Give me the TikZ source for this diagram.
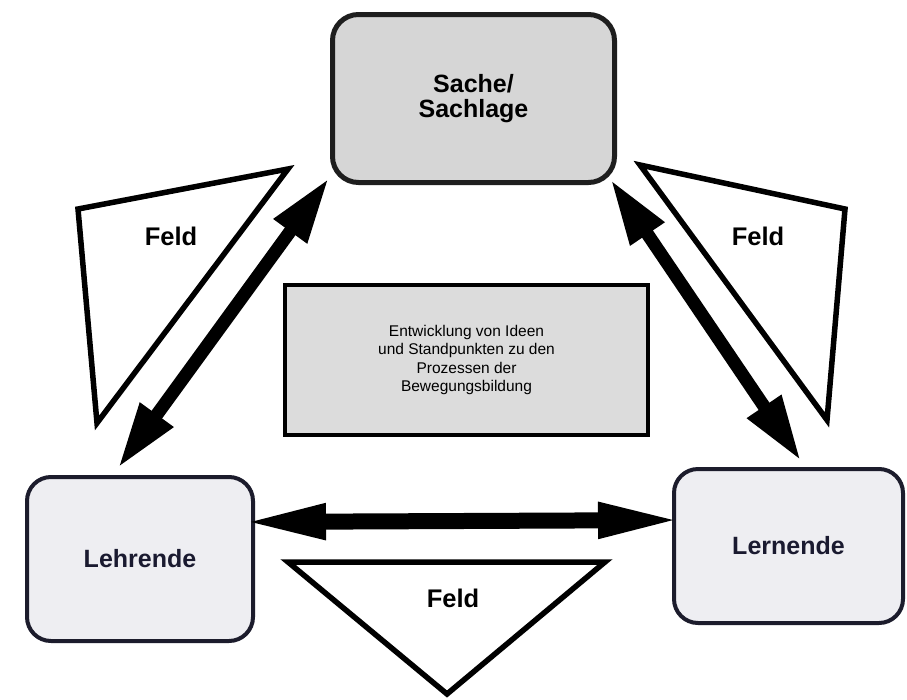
\documentclass[tikz,border=0pt]{standalone}
\usepackage{fontspec}
\setmainfont{Liberation Sans}
\usetikzlibrary{arrows.meta}
\definecolor{sachefill}{HTML}{D6D6D6}
\definecolor{midfill}{HTML}{DCDCDC}
\definecolor{lowfill}{HTML}{EEEEF2}
\definecolor{darkline}{HTML}{1E1E1E}
\definecolor{navyline}{HTML}{1C1C2C}
\definecolor{navytext}{HTML}{1A1A30}
\tikzset{
  bigtext/.style={font=\fontsize{25}{25}\selectfont\bfseries, align=center},
  sachebox/.style={draw=darkline, line width=5pt, fill=sachefill, rounded corners=26pt,
    minimum width=282pt, minimum height=168pt, inner sep=0pt, bigtext},
  personbox/.style={draw=navyline, line width=4pt, fill=lowfill, rounded corners=24pt,
    inner sep=0pt, bigtext, text=navytext},
  midbox/.style={draw=black, line width=4.5pt, fill=midfill, minimum width=363pt,
    minimum height=150pt, inner sep=0pt, align=center,
    font=\fontsize{15.5}{18.5}\selectfont},
  feldshape/.style={draw=black, line width=5.5pt, fill=white, line join=miter},
  feldtext/.style={font=\fontsize{25.5}{26}\selectfont\bfseries, inner sep=0pt},
  diagarrow/.style={draw=black, line width=13pt,
    {Triangle[length=66pt,width=38pt]}-{Triangle[length=66pt,width=38pt]}},
  horarrow/.style={draw=black, line width=16pt,
    {Triangle[length=86pt,width=32pt]}-{Triangle[length=86pt,width=32pt]}},
}
\begin{document}
\begin{tikzpicture}[x=1pt,y=-1pt]
\useasboundingbox[fill=white] (0,0) rectangle (907,699);

% Feld triangles
\draw[feldshape] (78,209) -- (288,169) -- (97,423) -- cycle;
\draw[feldshape] (640,165) -- (845,209) -- (827,420) -- cycle;
\draw[feldshape] (288,562) -- (605,562) -- (447,694) -- cycle;
\node[feldtext] (feldL) at (171,236) {Feld};
\node[feldtext] (feldR) at (758,236) {Feld};
\node[feldtext] (feldB) at (453,598) {Feld};

% boxes
\node[sachebox] (sache) at (473.5,98.5) {Sache/\\Sachlage};
\node[personbox, minimum width=226pt, minimum height=164pt] (lehr) at (140,559) {Lehrende};
\node[personbox, minimum width=229pt, minimum height=154pt] (lern) at (788.5,546) {Lernende};
\node[midbox] (mid) at (466.5,360) {Entwicklung von Ideen\\und Standpunkten zu den\\Prozessen der\\Bewegungsbildung};

% arrows
\draw[diagarrow] ([shift={(-22,-7)}]lehr.north) -- ([shift={(-1,-7)}]sache.south west);
\draw[diagarrow] ([shift={(-6.5,-5.6)}]sache.south east) -- ([shift={(12.5,-6)}]lern.north);
\draw[horarrow] ([shift={(-15,-37)}]lehr.east) -- ([shift={(12,-26)}]lern.west);
\end{tikzpicture}
\end{document}
